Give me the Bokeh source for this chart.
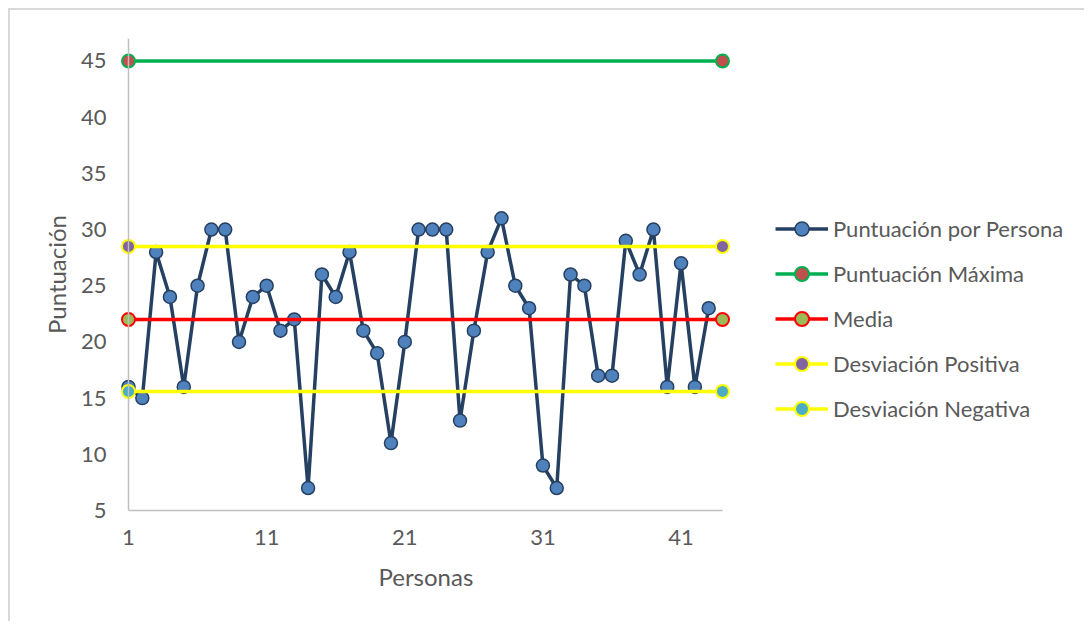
from bokeh.plotting import figure
from bokeh.models import (Range1d, LinearAxis, FixedTicker, Legend, LegendItem, Span,
                          Title)
from bokeh.embed import file_html
from bokeh.resources import INLINE

# ---- data ----
personas = list(range(1, 44))
puntuacion = [16, 15, 28, 24, 16, 25, 30, 30, 20, 24, 25, 21, 22, 7, 26, 24, 28,
              21, 19, 11, 20, 30, 30, 30, 13, 21, 28, 31, 25, 23, 9, 7, 26, 25,
              17, 17, 29, 26, 30, 16, 27, 16, 23]
ref_x = [1, 44]
puntuacion_maxima = [45, 45]
media = [22, 22]
desviacion_positiva = [28.5, 28.5]
desviacion_negativa = [15.6, 15.6]

x_ticks = [1, 11, 21, 31, 41]
y_ticks = [5, 10, 15, 20, 25, 30, 35, 40, 45]
x_min, x_max = 1, 44
y_min, y_max = 5, 47

labels = ["Puntuación por Persona", "Puntuación Máxima", "Media",
          "Desviación Positiva", "Desviación Negativa"]
x_title = "Personas"
y_title = "Puntuación"

# ---- layout (pixels) ----
W, H = 1076, 613
left, top, bottom = 110, 28, 113
frame_w = W - left
inset = 8
axis_span_px = 594
unit_px = axis_span_px / (x_max - x_min)
x_start = x_min - inset / unit_px
x_end = x_start + frame_w / unit_px
title_offset = 258

TXT = "#595959"
FONT = "Lato"

p = figure(width=W, height=H, output_backend="svg", toolbar_location=None,
           x_axis_type=None, y_axis_type=None,
           x_range=Range1d(x_start, x_end),
           y_range=Range1d(y_min, y_max),
           min_border_left=left, min_border_right=0,
           min_border_top=top, min_border_bottom=bottom)
p.margin = (8, 0, 0, 8)
p.styles = {"border-top": "2px solid #d9d9d9", "border-left": "2px solid #d9d9d9"}
p.outline_line_color = None
p.xgrid.visible = False
p.ygrid.visible = False

xaxis = LinearAxis(ticker=FixedTicker(ticks=x_ticks), bounds=(x_min, x_max))
yaxis = LinearAxis(ticker=FixedTicker(ticks=y_ticks), axis_label=y_title)
for ax in (xaxis, yaxis):
    ax.axis_line_color = "#bfbfbf"
    ax.axis_line_width = 1.5
    ax.major_tick_line_color = None
    ax.minor_tick_line_color = None
    ax.major_tick_out = 0
    ax.major_tick_in = 0
    ax.major_label_text_font = FONT
    ax.major_label_text_font_size = "22px"
    ax.major_label_text_color = TXT
    ax.axis_label_text_font = FONT
    ax.axis_label_text_font_size = "24px"
    ax.axis_label_text_color = TXT
    ax.axis_label_text_font_style = "normal"
yaxis.axis_line_color = None
xaxis.major_label_standoff = 19
yaxis.major_label_standoff = 14
yaxis.axis_label_standoff = 7
p.add_layout(xaxis, "below")
p.add_layout(yaxis, "left")
p.add_layout(Span(location=x_min, dimension="height", line_color="#bfbfbf",
                  line_width=1.5))
p.add_layout(Title(text=x_title, align="left", offset=title_offset,
                   text_font=FONT, text_font_size="24px", text_color=TXT,
                   text_font_style="normal", standoff=25), "below")

items = []
# data series
l0 = p.line(personas, puntuacion, line_color="#254061", line_width=3.5)
s0 = p.scatter(personas, puntuacion, size=13, fill_color="#4F81BD",
               line_color="#254061", line_width=1.5)
items.append(LegendItem(label=labels[0], renderers=[l0, s0]))

series = [
    (puntuacion_maxima, "#00B050", "#C0504D"),
    (media, "#FF0000", "#9BBB59"),
    (desviacion_positiva, "#FFFF00", "#8064A2"),
    (desviacion_negativa, "#FFFF00", "#4BACC6"),
]
for (vals, lc, fc), lab in zip(series, labels[1:]):
    lr = p.line(ref_x, vals, line_color=lc, line_width=3.5)
    sr = p.scatter(ref_x, vals, size=13, fill_color=fc, line_color=lc, line_width=2)
    items.append(LegendItem(label=lab, renderers=[lr, sr]))

legend = Legend(items=items, location=(655, 84))
legend.border_line_color = None
legend.background_fill_alpha = 0
legend.padding = 0
legend.margin = 0
legend.glyph_width = 53
legend.glyph_height = 35
legend.label_height = 35
legend.spacing = 10
legend.label_standoff = 5
legend.label_text_font = FONT
legend.label_text_font_size = "22px"
legend.label_text_color = TXT
p.add_layout(legend, "center")

open("out.html", "w").write(file_html(p, INLINE))
